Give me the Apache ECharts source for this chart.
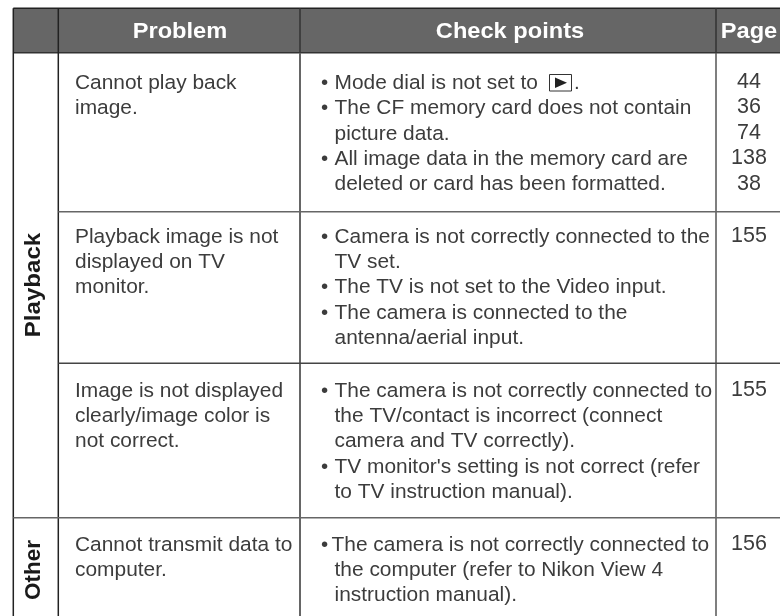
<!DOCTYPE html>
<html><head><meta charset="utf-8">
<style>html,body{margin:0;padding:0;background:#fff}#c{width:780px;height:616px}</style>
<script src="https://cdn.jsdelivr.net/npm/echarts@6/dist/echarts.min.js"></script></head>
<body><div id="c"></div>
<script>
const headers = ["Problem", "Check points", "Page"];
const groups = ["Playback", "Other"];
const problems = [
  ["Cannot play back", "image."],
  ["Playback image is not", "displayed on TV", "monitor."],
  ["Image is not displayed", "clearly/image color is", "not correct."],
  ["Cannot transmit data to", "computer."]
];
const checks = [
  ["• Mode dial is not set to", "• The CF memory card does not contain", "picture data.", "• All image data in the memory card are", "deleted or card has been formatted."],
  ["• Camera is not correctly connected to the", "TV set.", "• The TV is not set to the Video input.", "• The camera is connected to the", "antenna/aerial input."],
  ["• The camera is not correctly connected to", "the TV/contact is incorrect (connect", "camera and TV correctly).", "• TV monitor's setting is not correct (refer", "to TV instruction manual)."],
  ["•The camera is not correctly connected to", "the computer (refer to Nikon View 4", "instruction manual)."]
];
const pages = [["44","36","74","138","38"],["155"],["155"],["156"]];

const L = {left:13.3, c1:58.3, c2:300, c3:716, right:780, bottom:616, top:8.3, head:52.7, lh:25.3};
const FONT = '"Liberation Sans"';
const INK = '#3c3c3c';
const g = [];
g.push({type:'rect',shape:{x:L.left,y:L.top,width:L.right-L.left,height:L.head-L.top},style:{fill:'#666'}});
function line(x1,y1,x2,y2,c,w){g.push({type:'line',shape:{x1,y1,x2,y2},style:{stroke:c,lineWidth:w}});}
function text(t,x,y,o,sx){g.push({type:'text',x,y,scaleX:sx||1,style:Object.assign({text:t,font:'20.5px '+FONT,fill:INK,textVerticalAlign:'middle'},o||{})});}
const SX=1.02;
line(L.left,L.top,L.right,L.top,'#222',1.5);
line(L.left,L.head,L.right,L.head,'#333',1.5);
line(L.left,L.top,L.left,L.bottom,'#222',1.5);
line(L.c1,L.top,L.c1,L.bottom,'#222',1.5);
line(L.c2,L.head,L.c2,L.bottom,'#666',2);
line(L.c2,L.top,L.c2,L.head,'#333',1.5);
line(L.c3,L.head,L.c3,L.bottom,'#555',1.5);
line(L.c3,L.top,L.c3,L.head,'#333',1.5);
line(L.c1,211.7,L.right,211.7,'#666',1.5);
line(L.c1,363.3,L.right,363.3,'#444',1.5);
line(L.left,517.7,L.right,517.7,'#666',1.5);
const hx=[180,510,749];
headers.forEach((h,i)=>text(h,hx[i],32,{font:'bold 22.5px '+FONT,fill:'#fff',textAlign:'center'},1.05));
const firstY=[83.5,237,391,545];
const pageY=[82,236.5,390,544];
problems.forEach((r,i)=>r.forEach((t,j)=>text(t,75,firstY[i]+j*L.lh,null,SX)));
checks.forEach((r,i)=>r.forEach((t,j)=>{
  const y=firstY[i]+j*L.lh;
  if(t[0]==='•'){
    text('•',321,y);
    const tight=t[1]!==' ';
    text(t.replace(/^•\s*/,''),tight?331.5:334.5,y,null,SX);
  } else text(t,334.5,y,null,SX);
}));
pages.forEach((r,i)=>r.forEach((t,j)=>text(t,749,pageY[i]+j*25.4,{font:'21.5px '+FONT,textAlign:'center'})));
g.push({type:'text',x:33.5,y:285,rotation:Math.PI/2,scaleX:1.07,style:{text:groups[0],font:'bold 22.5px '+FONT,fill:'#1a1a1a',textAlign:'center',textVerticalAlign:'middle'}});
g.push({type:'text',x:33.5,y:570,rotation:Math.PI/2,scaleX:1.0,style:{text:groups[1],font:'bold 22.5px '+FONT,fill:'#1a1a1a',textAlign:'center',textVerticalAlign:'middle'}});
// playback icon and trailing full stop
g.push({type:'rect',shape:{x:549.5,y:74.5,width:22,height:16.5},style:{fill:'#fff',stroke:'#333',lineWidth:1}});
g.push({type:'polygon',shape:{points:[[555,77.5],[555,88],[567,82.8]]},style:{fill:'#222'}});
text('.',574,firstY[0]);
const chart=echarts.init(document.getElementById('c'),null,{renderer:'canvas'});
chart.setOption({animation:false,graphic:{elements:g}});
</script></body></html>
